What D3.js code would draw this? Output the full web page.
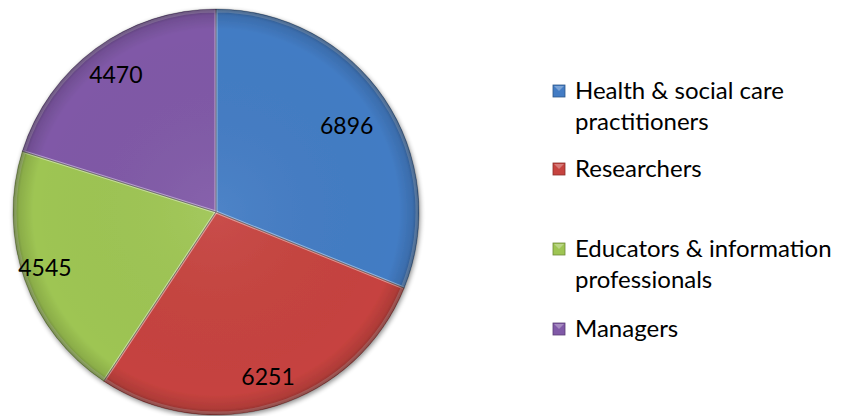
<!DOCTYPE html>
<html>
<head>
<meta charset="utf-8">
<script src="https://cdn.jsdelivr.net/npm/d3@7"></script>
<style>
  html, body { margin: 0; padding: 0; background: #fff; }
  svg { display: block; }
  text { font-family: Lato, "Open Sans", sans-serif; fill: #000; }
</style>
</head>
<body>
<svg id="chart" width="843" height="416"></svg>
<script>
// Staff groups and head counts
const categories = ["Health & social care practitioners", "Researchers", "Educators & information professionals", "Managers"];
const legendLines = [["Health & social care", "practitioners"], ["Researchers"], ["Educators & information", "professionals"], ["Managers"]];
const values = [6896, 6251, 4545, 4470];
const colors = ["#437cc4", "#c6433f", "#9ec553", "#8059a7"];

const W = 843, H = 416;
const cx = 216, cy = 212, R = 203;

const svg = d3.select("#chart");
const defs = svg.append("defs");

// soft shadow under the pie
const shadow = defs.append("filter").attr("id", "shadow")
  .attr("x", "-10%").attr("y", "-10%").attr("width", "120%").attr("height", "120%");
shadow.append("feGaussianBlur").attr("in", "SourceAlpha").attr("stdDeviation", 2.5).attr("result", "b");
shadow.append("feOffset").attr("in", "b").attr("dx", 1).attr("dy", 2).attr("result", "o");
shadow.append("feComponentTransfer").attr("in", "o").attr("result", "s")
  .append("feFuncA").attr("type", "linear").attr("slope", 0.45);
const m = shadow.append("feMerge");
m.append("feMergeNode").attr("in", "s");
m.append("feMergeNode").attr("in", "SourceGraphic");

// rim darkening for the rounded bevel look
const rim = defs.append("radialGradient").attr("id", "rim")
  .attr("gradientUnits", "userSpaceOnUse").attr("cx", 0).attr("cy", 0).attr("r", R);
rim.append("stop").attr("offset", "0%").attr("stop-color", "#fff").attr("stop-opacity", 0.06);
rim.append("stop").attr("offset", "90%").attr("stop-color", "#000").attr("stop-opacity", 0.0);
rim.append("stop").attr("offset", "97%").attr("stop-color", "#000").attr("stop-opacity", 0.12);
rim.append("stop").attr("offset", "100%").attr("stop-color", "#000").attr("stop-opacity", 0.35);

const pie = d3.pie().sort(null).value(d => d);
const arcs = pie(values);
const arc = d3.arc().innerRadius(0).outerRadius(R);

const g = svg.append("g").attr("transform", `translate(${cx},${cy})`);
const slices = g.append("g").attr("filter", "url(#shadow)");

slices.selectAll("path.slice")
  .data(arcs).join("path")
  .attr("class", "slice")
  .attr("d", arc)
  .attr("fill", (d, i) => colors[i]);

// bevel: light inner edge and dark outline on each slice
slices.selectAll("path.hi")
  .data(arcs).join("path")
  .attr("class", "hi")
  .attr("d", d3.arc().innerRadius(0).outerRadius(R - 2))
  .attr("fill", "none")
  .attr("stroke", "#fff").attr("stroke-opacity", 0.25).attr("stroke-width", 3);

slices.selectAll("path.rim")
  .data(arcs).join("path")
  .attr("class", "rim")
  .attr("d", arc)
  .attr("fill", "url(#rim)")
  .attr("stroke", "#000").attr("stroke-opacity", 0.3).attr("stroke-width", 0.8);

// value labels placed inside each slice
const labelArc = d3.arc().innerRadius(R * 0.8).outerRadius(R * 0.8);
const nudge = [[-4, 5], [4, 10], [-18, 2], [-4, -6]];
g.selectAll("text.val")
  .data(arcs).join("text")
  .attr("class", "val")
  .attr("transform", (d, i) => {
    const [x, y] = labelArc.centroid(d);
    return `translate(${x + nudge[i][0]},${y + nudge[i][1]})`;
  })
  .attr("text-anchor", "middle")
  .attr("dy", "0.35em")
  .style("font-size", "23px")
  .text(d => d.data);

// legend
const legendX = 553, lineH = 31;
const legendTops = [91, 169, 249, 329];
const leg = svg.append("g");
categories.forEach((c, i) => {
  const y = legendTops[i];
  leg.append("rect")
    .attr("x", legendX).attr("y", y - 6)
    .attr("width", 12).attr("height", 12)
    .attr("fill", colors[i])
    .attr("stroke", d3.color(colors[i]).darker(1)).attr("stroke-width", 0.8);
  leg.append("path")
    .attr("d", `M${legendX + 1},${y - 5}L${legendX + 11},${y - 5}L${legendX + 6},${y}Z`)
    .attr("fill", "#fff").attr("fill-opacity", 0.3);
  const t = leg.append("text")
    .attr("x", legendX + 22).attr("y", y)
    .style("font-size", "24px");
  legendLines[i].forEach((line, j) => {
    t.append("tspan").attr("x", legendX + 22).attr("dy", j === 0 ? "0.35em" : lineH)
      .text(line);
  });
});
</script>
</body>
</html>
